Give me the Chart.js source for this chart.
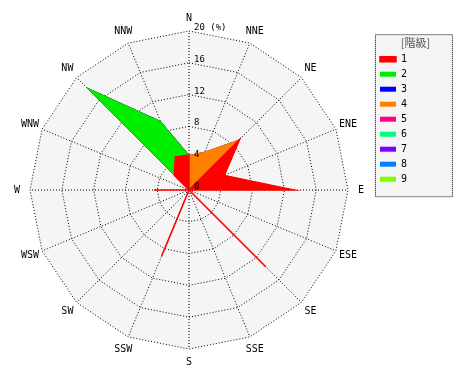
<!DOCTYPE html>
<html>
<head>
<meta charset="utf-8">
<script src="https://cdn.jsdelivr.net/npm/chart.js@4.4.0/dist/chart.umd.min.js"></script>
<style>
    body { margin: 0; background: #ffffff; }
    #wrap { width: 470px; height: 380px; }
</style>
</head>
<body>
<div id="wrap"><canvas id="myChart" width="470" height="380"></canvas></div>
<script>
const directions = ["N", "NNE", "NE", "ENE", "E", "ESE", "SE", "SSE", "S", "SSW", "SW", "WSW", "W", "WNW", "NW", "NNW"]
const classNames = ["1", "2", "3", "4", "5", "6", "7", "8", "9"]
const classColors = ["#ff0000", "#00ee00", "#0000ff", "#ff8000", "#ff0080", "#00ff80", "#8000ff", "#0080ff", "#80ff00"]
const tickValues = [0, 4, 8, 12, 16, 20]
const legendTitle = "[階級]"

// frequency (%) of each class per direction
const class1 = [4.4, 0, 9.0, 4.8, 13.2, 0, 13.7, 0, 0, 9.0, 0, 0, 4.4, 0, 2.6, 4.5]
const class2 = [0, 0, 0, 0, 0, 0, 0, 0, 0, 0, 0, 0, 0, 0, 15.7, 4.9]
const class3 = [0, 0, 0, 0, 0, 0, 0, 0, 0, 0, 0, 0, 0, 0, 0, 0]
const class4 = [0, 5.2, 0, 0, 0, 0, 0, 0, 0, 0, 0, 0, 0, 0, 0, 0]
const class5 = [0, 0, 0, 0, 0, 0, 0, 0, 0, 0, 0, 0, 0, 0, 0, 0]
const class6 = [0, 0, 0, 0, 0, 0, 0, 0, 0, 0, 0, 0, 0, 0, 0, 0]
const class7 = [0, 0, 0, 0, 0, 0, 0, 0, 0, 0, 0, 0, 0, 0, 0, 0]
const class8 = [0, 0, 0, 0, 0, 0, 0, 0, 0, 0, 0, 0, 0, 0, 0, 0]
const class9 = [0, 0, 0, 0, 0, 0, 0, 0, 0, 0, 0, 0, 0, 0, 0, 0]

const monoFont = "'DejaVu Sans Mono', monospace"

function cumulate(classes) {
    // each class is drawn as the running total of all classes up to it
    let sums = []
    let running = Array(directions.length).fill(0)
    for (let i = 0; i < classes.length; i++) {
        running = running.map((v, j) => v + classes[i][j])
        sums.push(running.slice())
    }
    return sums
}

function createDatasets() {
    let sums = cumulate([class1, class2, class3, class4, class5, class6, class7, class8, class9])
    let datasets = []
    for (let i = 0; i < sums.length; i++) {
        datasets.push({
            label: classNames[i],
            data: sums[i],
            backgroundColor: classColors[i],
            borderColor: classColors[i],
            // only the top class gets an outline so single-direction spokes still show
            borderWidth: i == 0 ? 1.5 : 0,
            fill: true,
            pointRadius: 0,
            pointHoverRadius: 0
        })
    }
    return datasets
}

const decorPlugin = {
    id: 'decor',
    beforeDraw(chart) {
        // dotted frame and title round the legend
        const ctx = chart.ctx
        const boxes = chart.legend.legendHitBoxes
        if (!boxes || !boxes.length) return
        const first = boxes[0]
        const last = boxes[boxes.length - 1]
        const x0 = first.left - 5
        const y0 = first.top - 20
        const x1 = first.left + 72
        const y1 = last.top + last.height + 12
        ctx.save()
        ctx.fillStyle = '#f5f5f5'
        ctx.fillRect(x0, y0, x1 - x0, y1 - y0)
        ctx.strokeStyle = '#000000'
        ctx.lineWidth = 1
        ctx.setLineDash([1, 1])
        ctx.strokeRect(x0 + 0.5, y0 + 0.5, x1 - x0, y1 - y0)
        ctx.setLineDash([])
        ctx.fillStyle = '#555555'
        ctx.font = "11px 'Noto Sans CJK JP', sans-serif"
        ctx.textAlign = 'center'
        ctx.textBaseline = 'middle'
        ctx.fillText(legendTitle, (x0 + x1) / 2 + 2, first.top - 11)
        ctx.restore()
    },
    afterDatasetsDraw(chart) {
        const ctx = chart.ctx
        const r = chart.scales.r
        ctx.save()
        ctx.fillStyle = '#000000'

        // compass labels centred a little outside the outer ring
        ctx.font = "10px " + monoFont
        ctx.textAlign = 'center'
        ctx.textBaseline = 'middle'
        for (let i = 0; i < directions.length; i++) {
            let p = r.getPointPosition(i, r.drawingArea + 13)
            ctx.fillText(directions[i], p.x, p.y)
        }

        // radius ticks along the north spoke
        ctx.font = "9px " + monoFont
        ctx.textAlign = 'left'
        ctx.textBaseline = 'alphabetic'
        for (let i = 0; i < tickValues.length; i++) {
            let v = tickValues[i]
            let y = r.yCenter - r.getDistanceFromCenterForValue(v)
            let text = (i == tickValues.length - 1) ? v + ' (%)' : String(v)
            ctx.fillText(text, r.xCenter + 5, y - 1)
        }
        ctx.restore()
    }
}

function createChart() {
    const chartConfig = {
        type: 'radar',
        data: {
            labels: directions,
            datasets: createDatasets()
        },
        options: {
            responsive: false,
            animation: false,
            layout: {
                padding: { left: 5, right: 53, top: 31, bottom: 31 }
            },
            elements: {
                line: { tension: 0 }
            },
            plugins: {
                tooltip: { enabled: false },
                legend: {
                    position: 'right',
                    align: 'start',
                    title: {
                        display: true,
                        text: '',
                        padding: { top: 5, bottom: 0 },
                        font: { family: "'Noto Sans CJK JP', sans-serif", size: 11 }
                    },
                    labels: {
                        boxWidth: 16,
                        boxHeight: 5,
                        padding: 5,
                        color: '#000000',
                        font: { family: monoFont, size: 10 }
                    }
                }
            },
            scales: {
                r: {
                    min: 0,
                    max: 20,
                    backgroundColor: '#f5f5f5',
                    ticks: { stepSize: 4, display: false },
                    grid: {
                        color: '#000000',
                        lineWidth: 1
                    },
                    border: {
                        dash: [1, 2]
                    },
                    angleLines: {
                        color: '#000000',
                        lineWidth: 1,
                        borderDash: [1, 2]
                    },
                    pointLabels: {
                        display: false
                    }
                }
            }
        },
        plugins: [decorPlugin]
    }
    const canvas = document.getElementById('myChart').getContext('2d')
    new Chart(canvas, chartConfig)
}

createChart()
</script>
</body>
</html>
